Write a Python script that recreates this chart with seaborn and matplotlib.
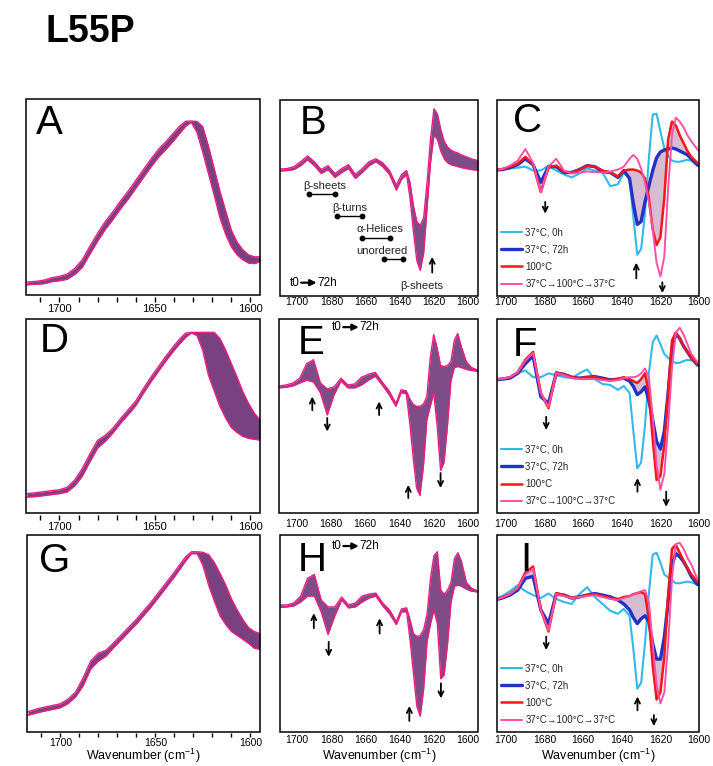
import numpy as np
import matplotlib
matplotlib.use("Agg")
import matplotlib.pyplot as plt
import seaborn as sns
from matplotlib.patches import Rectangle

# ---------------- data (y in box-height fractions) ----------------
wn_abs = [1717, 1712, 1708, 1704, 1700, 1696, 1692, 1688, 1684, 1680, 1676, 1672, 1668, 1664,
          1660, 1656, 1652, 1648, 1644, 1640, 1637, 1634, 1631, 1628, 1625, 1622, 1619, 1616,
          1613, 1610, 1607, 1604, 1601, 1598, 1595]

A_hi = [0.066, 0.070, 0.076, 0.088, 0.095, 0.106, 0.136, 0.180, 0.250, 0.315, 0.375, 0.425, 0.480, 0.530,
        0.585, 0.640, 0.695, 0.745, 0.785, 0.830, 0.862, 0.886, 0.888, 0.885, 0.860, 0.760, 0.645, 0.530,
        0.430, 0.330, 0.270, 0.230, 0.205, 0.195, 0.195]
A_lo = [0.052, 0.055, 0.058, 0.068, 0.073, 0.080, 0.105, 0.142, 0.210, 0.275, 0.335, 0.385, 0.440, 0.490,
        0.545, 0.600, 0.655, 0.705, 0.745, 0.790, 0.825, 0.860, 0.882, 0.830, 0.730, 0.620, 0.510, 0.395,
        0.310, 0.245, 0.205, 0.180, 0.163, 0.160, 0.170]

D_hi = [0.100, 0.105, 0.110, 0.115, 0.120, 0.132, 0.170, 0.230, 0.305, 0.375, 0.400, 0.437, 0.487, 0.532,
        0.578, 0.642, 0.702, 0.757, 0.812, 0.862, 0.897, 0.927, 0.931, 0.931, 0.931, 0.931, 0.931, 0.900,
        0.840, 0.770, 0.700, 0.625, 0.565, 0.515, 0.480]
D_lo = [0.082, 0.085, 0.090, 0.095, 0.100, 0.108, 0.140, 0.190, 0.265, 0.335, 0.370, 0.413, 0.463, 0.508,
        0.554, 0.618, 0.678, 0.733, 0.788, 0.838, 0.873, 0.905, 0.928, 0.915, 0.840, 0.710, 0.630, 0.550,
        0.490, 0.440, 0.415, 0.395, 0.385, 0.380, 0.376]

G_hi = [0.103, 0.118, 0.127, 0.135, 0.143, 0.166, 0.202, 0.275, 0.360, 0.400, 0.415, 0.452, 0.492, 0.532,
        0.572, 0.617, 0.662, 0.712, 0.762, 0.812, 0.852, 0.890, 0.915, 0.915, 0.912, 0.900, 0.860, 0.805,
        0.745, 0.675, 0.620, 0.570, 0.530, 0.510, 0.500]
G_lo = [0.085, 0.098, 0.107, 0.115, 0.123, 0.144, 0.178, 0.235, 0.320, 0.360, 0.385, 0.428, 0.468, 0.508,
        0.548, 0.593, 0.638, 0.688, 0.738, 0.788, 0.828, 0.870, 0.905, 0.905, 0.845, 0.745, 0.665, 0.590,
        0.545, 0.510, 0.490, 0.470, 0.450, 0.425, 0.420]

wn_d = [1710, 1706, 1702, 1698, 1694, 1690, 1686, 1682, 1678, 1674, 1670, 1666, 1662, 1658, 1654,
        1650, 1646, 1642, 1639, 1636, 1634, 1632, 1630, 1628, 1626, 1624, 1622, 1620, 1618, 1616,
        1614, 1612, 1610, 1608, 1606, 1604, 1601, 1598, 1594]

B_hi = [0.648, 0.650, 0.660, 0.685, 0.715, 0.685, 0.645, 0.665, 0.625, 0.650, 0.670, 0.620, 0.650, 0.685, 0.700,
        0.680, 0.640, 0.565, 0.620, 0.640, 0.580, 0.460, 0.380, 0.360, 0.400, 0.580, 0.800, 0.955, 0.930, 0.850,
        0.790, 0.760, 0.745, 0.735, 0.730, 0.720, 0.710, 0.700, 0.690]
B_lo = [0.638, 0.640, 0.645, 0.665, 0.695, 0.665, 0.625, 0.645, 0.605, 0.630, 0.650, 0.600, 0.630, 0.665, 0.685,
        0.660, 0.620, 0.540, 0.595, 0.620, 0.500, 0.330, 0.180, 0.130, 0.220, 0.450, 0.680, 0.820, 0.800, 0.740,
        0.700, 0.680, 0.670, 0.665, 0.660, 0.655, 0.650, 0.645, 0.640]

E_hi = [0.655, 0.660, 0.670, 0.695, 0.770, 0.790, 0.670, 0.640, 0.650, 0.695, 0.660, 0.665, 0.700, 0.715, 0.725,
        0.675, 0.630, 0.565, 0.635, 0.630, 0.590, 0.560, 0.550, 0.550, 0.560, 0.600, 0.800, 0.920, 0.850, 0.760,
        0.755, 0.760, 0.780, 0.890, 0.925, 0.860, 0.780, 0.750, 0.735]
E_lo = [0.645, 0.648, 0.655, 0.670, 0.685, 0.675, 0.620, 0.505, 0.610, 0.680, 0.645, 0.645, 0.660, 0.685, 0.705,
        0.660, 0.610, 0.550, 0.620, 0.615, 0.470, 0.290, 0.130, 0.090, 0.240, 0.480, 0.550, 0.620, 0.450, 0.220,
        0.260, 0.450, 0.680, 0.750, 0.755, 0.750, 0.740, 0.735, 0.730]

H_hi = [0.645, 0.645, 0.655, 0.690, 0.780, 0.800, 0.670, 0.635, 0.635, 0.685, 0.645, 0.655, 0.690, 0.700, 0.705,
        0.655, 0.620, 0.560, 0.625, 0.630, 0.570, 0.500, 0.485, 0.490, 0.520, 0.600, 0.780, 0.895, 0.915, 0.720,
        0.700, 0.720, 0.760, 0.880, 0.910, 0.870, 0.760, 0.730, 0.715]
H_lo = [0.632, 0.635, 0.640, 0.660, 0.690, 0.690, 0.610, 0.495, 0.590, 0.670, 0.630, 0.635, 0.660, 0.680, 0.690,
        0.640, 0.600, 0.545, 0.610, 0.610, 0.470, 0.300, 0.130, 0.080, 0.220, 0.460, 0.550, 0.620, 0.550, 0.270,
        0.290, 0.450, 0.660, 0.740, 0.745, 0.740, 0.725, 0.715, 0.710]

C_cyan = [0.640, 0.643, 0.645, 0.650, 0.655, 0.660, 0.640, 0.640, 0.665, 0.640, 0.620, 0.605, 0.625, 0.650, 0.640,
          0.630, 0.560, 0.570, 0.630, 0.600, 0.400, 0.210, 0.240, 0.420, 0.700, 0.925, 0.930, 0.840, 0.755, 0.715,
          0.690, 0.685, 0.685, 0.690, 0.695, 0.690, 0.670, 0.660, 0.650]
C_blue = [0.640, 0.642, 0.645, 0.655, 0.670, 0.700, 0.670, 0.580, 0.660, 0.660, 0.630, 0.630, 0.645, 0.665, 0.660,
          0.635, 0.630, 0.605, 0.640, 0.600, 0.470, 0.365, 0.380, 0.480, 0.560, 0.640, 0.705, 0.735, 0.745, 0.750,
          0.755, 0.750, 0.740, 0.730, 0.720, 0.700, 0.670, 0.655, 0.640]
C_red = [0.640, 0.642, 0.647, 0.660, 0.675, 0.710, 0.670, 0.530, 0.655, 0.665, 0.635, 0.630, 0.645, 0.665, 0.660,
         0.640, 0.630, 0.610, 0.640, 0.645, 0.645, 0.640, 0.630, 0.600, 0.500, 0.340, 0.260, 0.300, 0.500, 0.800,
         0.890, 0.870, 0.820, 0.780, 0.740, 0.710, 0.680, 0.660, 0.640]
C_pink = [0.640, 0.642, 0.648, 0.665, 0.690, 0.750, 0.680, 0.530, 0.660, 0.700, 0.640, 0.625, 0.630, 0.635, 0.632,
          0.630, 0.635, 0.645, 0.660, 0.700, 0.720, 0.700, 0.650, 0.580, 0.480, 0.340, 0.170, 0.100, 0.200, 0.550,
          0.820, 0.910, 0.890, 0.860, 0.820, 0.790, 0.750, 0.720, 0.700]

F_cyan = [0.686, 0.686, 0.690, 0.700, 0.720, 0.735, 0.700, 0.700, 0.720, 0.710, 0.700, 0.695, 0.720, 0.740, 0.690,
          0.665, 0.660, 0.635, 0.655, 0.620, 0.420, 0.230, 0.260, 0.450, 0.720, 0.880, 0.915, 0.870, 0.820, 0.800,
          0.785, 0.772, 0.775, 0.783, 0.789, 0.787, 0.780, 0.775, 0.770]
F_blue = [0.686, 0.686, 0.690, 0.695, 0.720, 0.770, 0.810, 0.600, 0.565, 0.720, 0.715, 0.700, 0.695, 0.700, 0.703,
          0.695, 0.686, 0.690, 0.695, 0.680, 0.652, 0.610, 0.625, 0.650, 0.580, 0.480, 0.370, 0.330, 0.420, 0.620,
          0.850, 0.925, 0.900, 0.860, 0.830, 0.800, 0.765, 0.750, 0.740]
F_red = [0.686, 0.688, 0.692, 0.700, 0.725, 0.790, 0.830, 0.620, 0.540, 0.725, 0.715, 0.700, 0.695, 0.700, 0.700,
         0.690, 0.685, 0.690, 0.700, 0.690, 0.680, 0.670, 0.690, 0.720, 0.620, 0.380, 0.170, 0.190, 0.350, 0.620,
         0.890, 0.930, 0.900, 0.860, 0.830, 0.800, 0.770, 0.755, 0.740]
F_pink = [0.686, 0.688, 0.692, 0.700, 0.725, 0.785, 0.825, 0.620, 0.545, 0.720, 0.710, 0.695, 0.690, 0.690, 0.690,
          0.685, 0.680, 0.685, 0.695, 0.700, 0.700, 0.705, 0.720, 0.745, 0.700, 0.500, 0.250, 0.120, 0.200, 0.450,
          0.750, 0.930, 0.955, 0.920, 0.870, 0.820, 0.780, 0.760, 0.745]

I_cyan = [0.675, 0.677, 0.690, 0.715, 0.745, 0.715, 0.695, 0.680, 0.703, 0.675, 0.660, 0.650, 0.700, 0.735, 0.685,
          0.650, 0.615, 0.600, 0.625, 0.590, 0.420, 0.220, 0.250, 0.450, 0.700, 0.900, 0.910, 0.860, 0.800, 0.785,
          0.770, 0.755, 0.755, 0.760, 0.763, 0.760, 0.750, 0.745, 0.740]
I_blue = [0.670, 0.670, 0.680, 0.695, 0.720, 0.780, 0.790, 0.620, 0.550, 0.700, 0.695, 0.680, 0.686, 0.695, 0.703,
          0.695, 0.686, 0.670, 0.650, 0.620, 0.580, 0.550, 0.575, 0.590, 0.560, 0.450, 0.370, 0.370, 0.480, 0.660,
          0.850, 0.905, 0.890, 0.865, 0.830, 0.790, 0.750, 0.740, 0.730]
I_red = [0.670, 0.672, 0.682, 0.700, 0.730, 0.810, 0.840, 0.620, 0.510, 0.705, 0.695, 0.680, 0.686, 0.695, 0.700,
         0.690, 0.680, 0.675, 0.685, 0.690, 0.700, 0.705, 0.710, 0.700, 0.580, 0.340, 0.165, 0.200, 0.380, 0.700,
         0.930, 0.950, 0.910, 0.870, 0.830, 0.800, 0.765, 0.750, 0.735]
I_pink = [0.670, 0.672, 0.682, 0.700, 0.730, 0.800, 0.830, 0.620, 0.515, 0.700, 0.690, 0.680, 0.685, 0.690, 0.695,
          0.685, 0.675, 0.670, 0.680, 0.690, 0.700, 0.705, 0.715, 0.720, 0.660, 0.450, 0.240, 0.145, 0.200, 0.450,
          0.780, 0.955, 0.960, 0.930, 0.885, 0.850, 0.780, 0.760, 0.745]

legend_labels = ["37°C, 0h", "37°C, 72h", "100°C", "37°C→100°C→37°C"]
region_names = ["β-sheets", "β-turns", "α-Helices", "unordered"]
region_ranges = [(1693, 1678), (1677, 1662), (1662, 1646), (1649, 1638)]
abs_ticks = list(range(1600, 1711, 10))
abs_ticklabels = ["1600" if t == 1600 else "1650" if t == 1650 else "1700" if t == 1700 else "" for t in abs_ticks]
der_ticks = [1600, 1620, 1640, 1660, 1680, 1700]

# ---------------- style ----------------
sns.set_theme(style="white")
plt.rcParams["font.family"] = ["Liberation Sans", "DejaVu Sans"]
plt.rcParams["mathtext.fontset"] = "custom"
plt.rcParams["mathtext.rm"] = "Liberation Sans"
plt.rcParams["mathtext.it"] = "Liberation Sans:italic"
plt.rcParams["mathtext.bf"] = "Liberation Sans:bold"

W, H = 713, 766
fig = plt.figure(figsize=(W / 100, H / 100), dpi=100)
fig.patch.set_facecolor("white")

BAND = "#6a2c72"
EDGE = "#ec1c80"
CYAN = "#33b8ec"
BLUE = "#2231c8"
RED = "#f01818"
PINK = "#ff4fa6"


def add_box(l, t, r, b):
    ax = fig.add_axes([l / W, 1 - b / H, (r - l) / W, (b - t) / H])
    for s in ax.spines.values():
        s.set_visible(False)
    ax.add_patch(Rectangle((0, 0), 1, 1, transform=ax.transAxes, fill=False,
                           lw=1.1, ec="black", clip_on=False, zorder=10))
    ax.set_ylim(0, 1)
    ax.set_yticks([])
    ax.set_facecolor("white")
    return ax


def letter(ax, s, fx, fy):
    ax.text(fx, fy, s, transform=ax.transAxes, fontsize=29, va="top", ha="left", color="black", zorder=12)


def absorbance_panel(box, hi, lo, name, fx, fy, pad=1.2, out=1.5, tlen=3.5, lsize=8):
    ax = add_box(*box)
    ax.spines["bottom"].set_position(("outward", out))
    ax.set_xlim(1717.5, 1595)
    ax.fill_between(wn_abs, lo, hi, color=BAND, alpha=0.9, lw=0, zorder=2)
    sns.lineplot(x=wn_abs, y=hi, ax=ax, color=EDGE, linewidth=1.0, sort=False, zorder=3)
    sns.lineplot(x=wn_abs, y=lo, ax=ax, color=EDGE, linewidth=1.0, sort=False, zorder=3)
    ax.set_xticks(abs_ticks)
    ax.set_xticklabels(abs_ticklabels)
    ax.tick_params(axis="x", bottom=True, direction="out", length=tlen, width=1, pad=pad,
                   labelsize=lsize, colors="black")
    ax.set_xlabel("")
    ax.set_ylabel("Absorbance", fontsize=9, labelpad=2, color="black")
    letter(ax, name, fx, fy)
    return ax


def t0_arrow(ax, fx, fy):
    ax.text(fx, fy, "t0", transform=ax.transAxes, fontsize=8.5, ha="left", va="center", color="black")
    ax.annotate("", xy=(fx + 0.135, fy), xytext=(fx + 0.057, fy), xycoords="axes fraction",
                textcoords="axes fraction",
                arrowprops=dict(arrowstyle="-|>", lw=1.6, color="black", shrinkA=0, shrinkB=0,
                                mutation_scale=9))
    ax.text(fx + 0.138, fy, "72h", transform=ax.transAxes, fontsize=8.5, ha="left", va="center",
            color="black")


def derivative_panel(box, hi, lo, name, fx, fy, pad):
    ax = add_box(*box)
    ax.set_xlim(1710.1, 1594.2)
    ax.fill_between(wn_d, lo, hi, color=BAND, alpha=0.85, lw=0, zorder=2)
    sns.lineplot(x=wn_d, y=hi, ax=ax, color=EDGE, linewidth=1.0, sort=False, zorder=3)
    sns.lineplot(x=wn_d, y=lo, ax=ax, color=EDGE, linewidth=1.0, sort=False, zorder=3)
    ax.set_xticks(der_ticks)
    ax.set_xticklabels([str(t) for t in der_ticks])
    ax.tick_params(axis="x", bottom=True, length=0, pad=pad, labelsize=7.5, colors="black")
    ax.set_xlabel("")
    ax.set_ylabel("Second Derivatives", fontsize=9, labelpad=3.5, color="black")
    letter(ax, name, fx, fy)
    return ax


def temp_panel(box, cyan, blue, red, pink, name, fx, fy, pad):
    ax = add_box(*box)
    ax.set_xlim(1704.7, 1602.2)
    lo = np.minimum(blue, red)
    hi = np.maximum(blue, red)
    ax.fill_between(wn_d, lo, hi, color="#8a3f82", alpha=0.35, lw=0, zorder=1)
    sns.lineplot(x=wn_d, y=cyan, ax=ax, color=CYAN, linewidth=1.5, sort=False, label=legend_labels[0], zorder=3)
    sns.lineplot(x=wn_d, y=blue, ax=ax, color=BLUE, linewidth=2.4, sort=False, label=legend_labels[1], zorder=4)
    sns.lineplot(x=wn_d, y=red, ax=ax, color=RED, linewidth=1.8, sort=False, label=legend_labels[2], zorder=5)
    sns.lineplot(x=wn_d, y=pink, ax=ax, color=PINK, linewidth=1.4, sort=False, label=legend_labels[3], zorder=6)
    ax.legend(loc="lower left", bbox_to_anchor=(0.02, 0.035), frameon=False, fontsize=7,
              handlelength=2.2, handletextpad=0.3, labelspacing=0.75, borderaxespad=0, borderpad=0)
    ax.set_xticks(der_ticks)
    ax.set_xticklabels([str(t) for t in der_ticks])
    ax.tick_params(axis="x", bottom=True, length=0, pad=pad, labelsize=7.5, colors="black")
    ax.set_xlabel("")
    ax.set_ylabel("")
    letter(ax, name, fx, fy)
    return ax


def arrows(ax, items):
    for x, y0, y1 in items:
        ax.annotate("", xy=(x, y1), xytext=(x, y0),
                    arrowprops=dict(arrowstyle="->", lw=1.3, color="black",
                                    shrinkA=0, shrinkB=0, mutation_scale=9), zorder=11)


# ---------------- row 1 ----------------
axA = absorbance_panel((26, 99, 260, 295), A_hi, A_lo, "A", 0.043, 0.975)
axB = derivative_panel((280, 100, 478, 296), B_hi, B_lo, "B", 0.10, 0.978, 1)
axC = temp_panel((497, 100, 699, 296), C_cyan, C_blue, C_red, C_pink, "C", 0.08, 0.988, 1)

# ---------------- row 2 ----------------
axD = absorbance_panel((26, 319, 260, 513), D_hi, D_lo, "D", 0.06, 0.982)
axE = derivative_panel((279, 319, 478, 513), E_hi, E_lo, "E", 0.095, 0.972, 4)
axF = temp_panel((497, 319, 699, 513), F_cyan, F_blue, F_red, F_pink, "F", 0.08, 0.965, 4)

# ---------------- row 3 ----------------
axG = absorbance_panel((27, 535, 260, 732), G_hi, G_lo, "G", 0.05, 0.962,
                       pad=0.4, out=1.0, tlen=3.0, lsize=7.5)
axH = derivative_panel((280, 535, 478, 732), H_hi, H_lo, "H", 0.09, 0.972, 2.5)
axI = temp_panel((497, 535, 699, 732), I_cyan, I_blue, I_red, I_pink, "I", 0.115, 0.972, 2.5)

# ---------------- annotations ----------------
ann_fs = 8
line_y = [0.52, 0.408, 0.296, 0.189]
text_pos = [(1683.8, 0.561), (1669.0, 0.449), (1651.5, 0.342), (1650.3, 0.232)]
for name, (x1, x2), ly, (tx, ty) in zip(region_names, region_ranges, line_y, text_pos):
    axB.plot([x1, x2], [ly, ly], color="black", lw=1.0, marker="o", ms=3.2, zorder=11)
    axB.text(tx, ty, name, fontsize=ann_fs, ha="center", va="center", color="#222222", zorder=11)
axB.text(1627.0, 0.052, "β-sheets", fontsize=ann_fs, ha="center", va="center", color="#222222")
t0_arrow(axB, 0.05, 0.068)
t0_arrow(axE, 0.266, 0.958)
t0_arrow(axH, 0.263, 0.944)

arrows(axB, [(1621.0, 0.12, 0.20)])
arrows(axC, [(1679.7, 0.48, 0.42), (1632.5, 0.09, 0.17), (1619.0, 0.07, 0.015)])
arrows(axE, [(1690.7, 0.53, 0.60), (1682.0, 0.49, 0.42), (1651.8, 0.505, 0.575),
             (1634.8, 0.077, 0.145), (1616.0, 0.206, 0.129)])
arrows(axF, [(1679.2, 0.496, 0.428), (1631.9, 0.11, 0.18), (1617.0, 0.11, 0.032)])
arrows(axH, [(1690.3, 0.527, 0.603), (1681.6, 0.458, 0.382), (1651.8, 0.50, 0.577),
             (1634.4, 0.056, 0.132), (1615.9, 0.247, 0.171)])
arrows(axI, [(1679.2, 0.484, 0.416), (1631.9, 0.11, 0.18), (1623.4, 0.086, 0.03)])

# ---------------- figure texts ----------------
fig.text(45 / W, 1 - 14 / H, "L55P", fontsize=27, fontweight="bold", ha="left", va="top", color="black")
xl = "Wavenumber (cm$^{-1}$)"
for cx in (143, 379, 598):
    fig.text(cx / W, 1 - 765 / H, xl, fontsize=9, ha="center", va="bottom", color="black")

fig.savefig("out.png", dpi=100, facecolor="white")
